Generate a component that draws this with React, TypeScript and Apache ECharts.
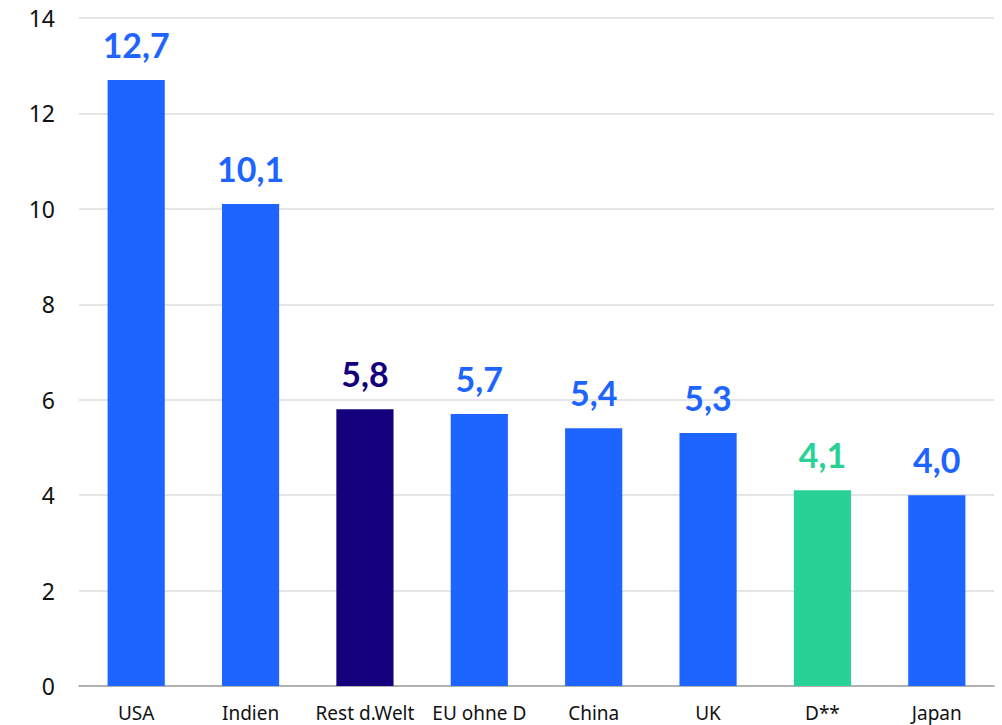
import React, { useEffect, useRef } from "react";
import * as echarts from "echarts";

const categories = ["USA", "Indien", "Rest d.Welt", "EU ohne D", "China", "UK", "D**", "Japan"];
const values = [12.7, 10.1, 5.8, 5.7, 5.4, 5.3, 4.1, 4.0];
const barColors = ["#1E64FF", "#1E64FF", "#14007D", "#1E64FF", "#1E64FF", "#1E64FF", "#28D296", "#1E64FF"];
const yTicks = [0, 2, 4, 6, 8, 10, 12, 14];

export default function App() {
  const ref = useRef<HTMLDivElement>(null);
  useEffect(() => {
    if (!ref.current) return;
    const chart = echarts.init(ref.current, undefined, { renderer: "svg" });
    chart.setOption({
      animation: false,
      grid: { left: 79, right: 8, top: 18, bottom: 39 },
      xAxis: {
        type: "category",
        data: categories,
        axisTick: { show: false },
        axisLine: { lineStyle: { color: "#A0A0A0", width: 1.5 } },
        axisLabel: { color: "#111", fontSize: 19, fontFamily: "Noto Sans", margin: 17, interval: 0 },
      },
      yAxis: {
        type: "value",
        min: yTicks[0],
        max: yTicks[yTicks.length - 1],
        interval: 2,
        axisLabel: { color: "#111", fontSize: 23, fontFamily: "Noto Sans", margin: 24 },
        splitLine: { lineStyle: { color: "#DCDCDC", width: 1.5 } },
        axisLine: { show: false },
        axisTick: { show: false },
      },
      series: [
        {
          type: "bar",
          barWidth: "50%",
          data: values.map((v, i) => ({
            value: v,
            itemStyle: { color: barColors[i] },
            label: { color: barColors[i] },
          })),
          label: {
            show: true,
            position: "top",
            distance: 19,
            fontSize: 34,
            fontWeight: "bold",
            fontFamily: "Lato",
            formatter: (p: any) => p.value.toFixed(1).replace(".", ","),
          },
        },
      ],
    });
    return () => chart.dispose();
  }, []);
  return <div ref={ref} style={{ width: 1002, height: 725, position: "absolute", left: 0, top: 0 }} />;
}
